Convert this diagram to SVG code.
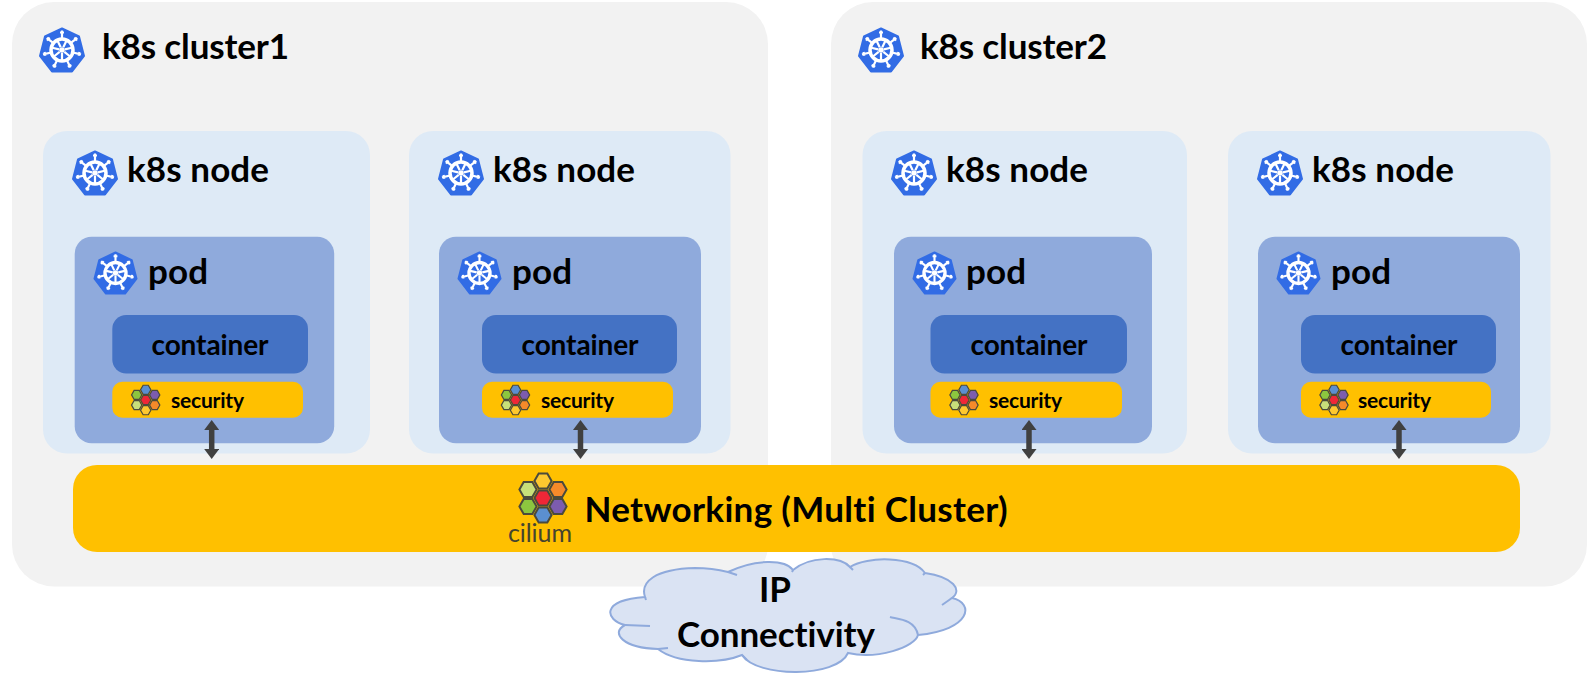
<svg xmlns="http://www.w3.org/2000/svg" xmlns:xlink="http://www.w3.org/1999/xlink" width="1591" height="678" viewBox="0 0 1591 678">
<style>
text{font-family:"Lato","Liberation Sans",sans-serif;font-weight:700;fill:#000;font-variant-ligatures:none}
.cluster{fill:#f2f2f2}.node{fill:#deeaf6}.pod{fill:#8faadc}.container{fill:#4472c4}.sec{fill:#ffc000}
.t1{font-size:35px}.t2{font-size:35px}.t3{font-size:28px;text-anchor:middle}.t4{font-size:21px}
.hx{stroke:#4b4a3c;stroke-width:2}
.link{stroke:#404040;stroke-width:5.500;fill:none;marker-start:url(#ah);marker-end:url(#ah)}
</style>
<defs>
<marker id="ah" viewBox="0 0 10 15" refX="0" refY="7.500" markerWidth="10" markerHeight="15" markerUnits="userSpaceOnUse" orient="auto-start-reverse"><path d="M0 0L10 7.500L0 15z" fill="#404040"/></marker>
<path id="spoke" d="M23 12V3.500M21 5.500H25M23 33L23 26" stroke="#fff" stroke-width="2.200" fill="none"/>
<symbol id="k8s" viewBox="0 0 46 46" overflow="visible">
<path d="M23 1.500L40 9.500L45 29L33 44.500H13L1 29L6 9.500Z" fill="#326ce5" stroke="#326ce5" stroke-width="2" stroke-linejoin="round"/>
<circle cx="23" cy="23" r="11" fill="none" stroke="#fff" stroke-width="3.500"/>
<circle cx="23" cy="23" r="2.800" fill="#fff"/>
<use xlink:href="#spoke"/><use xlink:href="#spoke" transform="rotate(51.4 23 23)"/><use xlink:href="#spoke" transform="rotate(102.9 23 23)"/><use xlink:href="#spoke" transform="rotate(154.3 23 23)"/><use xlink:href="#spoke" transform="rotate(205.7 23 23)"/><use xlink:href="#spoke" transform="rotate(257.1 23 23)"/><use xlink:href="#spoke" transform="rotate(308.6 23 23)"/>
</symbol>
<path id="hex" d="M-8.600 0L-4.300-7.600H4.300L8.600 0L4.300 7.600H-4.300Z"/>
<g id="logo">
<use xlink:href="#hex" class="hx" fill="#ee2737"/>
<use xlink:href="#hex" class="hx" fill="#fdc82f" y="-17"/>
<use xlink:href="#hex" class="hx" fill="#f68a2a" x="15" y="-8.500"/>
<use xlink:href="#hex" class="hx" fill="#7c5cae" x="15" y="8.500"/>
<use xlink:href="#hex" class="hx" fill="#5b8fd0" y="17"/>
<use xlink:href="#hex" class="hx" fill="#8cc63f" x="-15" y="8.500"/>
<use xlink:href="#hex" class="hx" fill="#c8df7a" x="-15" y="-8.500"/>
</g>
</defs>

<g id="cluster1"><rect class="cluster" x="12" y="2" width="756" height="584.500" rx="42"/><use xlink:href="#k8s" x="39" y="27" width="46" height="46"/><text class="t1" x="102" y="59" textLength="187">k8s cluster1</text></g>
<g id="cluster2"><rect class="cluster" x="831" y="2" width="756" height="584.500" rx="42"/><use xlink:href="#k8s" x="858" y="27" width="46" height="46"/><text class="t1" x="920" y="59" textLength="187">k8s cluster2</text></g>

<g id="node1"><rect class="node" x="43" y="131" width="327" height="322.500" rx="24"/><use xlink:href="#k8s" x="72" y="150" width="46" height="46"/><text class="t2" x="127" y="182" textLength="142">k8s node</text></g>
<g id="node2"><rect class="node" x="409" y="131" width="321.500" height="322.500" rx="24"/><use xlink:href="#k8s" x="438" y="150" width="46" height="46"/><text class="t2" x="493" y="182" textLength="142">k8s node</text></g>
<g id="node3"><rect class="node" x="862.500" y="131" width="324.500" height="322.500" rx="24"/><use xlink:href="#k8s" x="891" y="150" width="46" height="46"/><text class="t2" x="946" y="182" textLength="142">k8s node</text></g>
<g id="node4"><rect class="node" x="1228" y="131" width="322.500" height="322.500" rx="24"/><use xlink:href="#k8s" x="1257" y="150" width="46" height="46"/><text class="t2" x="1312" y="182" textLength="142">k8s node</text></g>

<g id="pod1"><rect class="pod" x="74.700" y="236.700" width="259.500" height="206.500" rx="17"/><use xlink:href="#k8s" x="92.500" y="251" width="46" height="44"/><text class="t2" x="148" y="284" textLength="60">pod</text></g>
<g id="pod2"><rect class="pod" x="439" y="236.700" width="262" height="206.500" rx="17"/><use xlink:href="#k8s" x="456.500" y="251" width="46" height="44"/><text class="t2" x="512" y="284" textLength="60">pod</text></g>
<g id="pod3"><rect class="pod" x="894" y="236.700" width="258" height="206.500" rx="17"/><use xlink:href="#k8s" x="911.500" y="251" width="46" height="44"/><text class="t2" x="966" y="284" textLength="60">pod</text></g>
<g id="pod4"><rect class="pod" x="1258" y="236.700" width="262" height="206.500" rx="17"/><use xlink:href="#k8s" x="1275.500" y="251" width="46" height="44"/><text class="t2" x="1331" y="284" textLength="60">pod</text></g>

<g id="container1"><rect class="container" x="112.300" y="315" width="195.700" height="58.500" rx="14"/><text class="t3" x="210" y="355" textLength="117">container</text></g>
<g id="container2"><rect class="container" x="482" y="315" width="195" height="58.500" rx="14"/><text class="t3" x="580" y="355" textLength="117">container</text></g>
<g id="container3"><rect class="container" x="930.500" y="315" width="196.500" height="58.500" rx="14"/><text class="t3" x="1029" y="355" textLength="117">container</text></g>
<g id="container4"><rect class="container" x="1301" y="315" width="195" height="58.500" rx="14"/><text class="t3" x="1399" y="355" textLength="117">container</text></g>

<g id="security1"><rect class="sec" x="112.300" y="381.700" width="190.700" height="36" rx="10"/><use xlink:href="#logo" transform="translate(145.700 400) scale(.6 -.6)"/><text class="t4" x="171" y="408" textLength="73">security</text></g>
<g id="security2"><rect class="sec" x="482" y="381.700" width="191" height="36" rx="10"/><use xlink:href="#logo" transform="translate(515.500 400) scale(.6 -.6)"/><text class="t4" x="541" y="408" textLength="73">security</text></g>
<g id="security3"><rect class="sec" x="930.500" y="381.700" width="191.500" height="36" rx="10"/><use xlink:href="#logo" transform="translate(964 400) scale(.6 -.6)"/><text class="t4" x="989" y="408" textLength="73">security</text></g>
<g id="security4"><rect class="sec" x="1301" y="381.700" width="190" height="36" rx="10"/><use xlink:href="#logo" transform="translate(1334 400) scale(.6 -.6)"/><text class="t4" x="1358" y="408" textLength="73">security</text></g>

<g id="networking"><rect class="sec" x="73" y="465" width="1447" height="87" rx="24"/><use xlink:href="#logo" transform="translate(543 498)"/><text x="508" y="542" font-size="25" style="font-weight:400;fill:#45442f" textLength="64">cilium</text><text x="584.500" y="522" font-size="35" textLength="423">Networking (Multi Cluster)</text></g>

<g id="connectivity">
<path d="M645 597C640 582 655 569 695 568C708 568 720 570 728 572C755 559 785 559 793 570C810 556 840 556 850 567C867 556 913 556 925 573C953 577 963 590 952 598C975 603 971 630 918 635C915 647 877 660 848 653C837 678 757 678 742 655C720 664 677 664 658 649C623 648 610 633 625 625C605 620 600 600 645 597Z" fill="#dae3f3" stroke="#8faadc" stroke-width="2"/>
<path d="M645 597L646 600M952 598L942 605M918 635C915 619 897 619 890 617M625 625L650 626M658 649L668 648M742 655L747 660M728 572L737 575M793 570L792 572M850 567L853 570M925 573L923 575" fill="none" stroke="#8faadc" stroke-width="2"/>
<text x="775" y="602" font-size="35" text-anchor="middle">IP</text>
<text x="776" y="647" font-size="35" text-anchor="middle" textLength="198">Connectivity</text>
</g>

<g id="connectors">
<path class="link" d="M211.700 430V449"/>
<path class="link" d="M580.500 430V449"/>
<path class="link" d="M1029 430V449"/>
<path class="link" d="M1399 430V449"/>
</g>
</svg>
